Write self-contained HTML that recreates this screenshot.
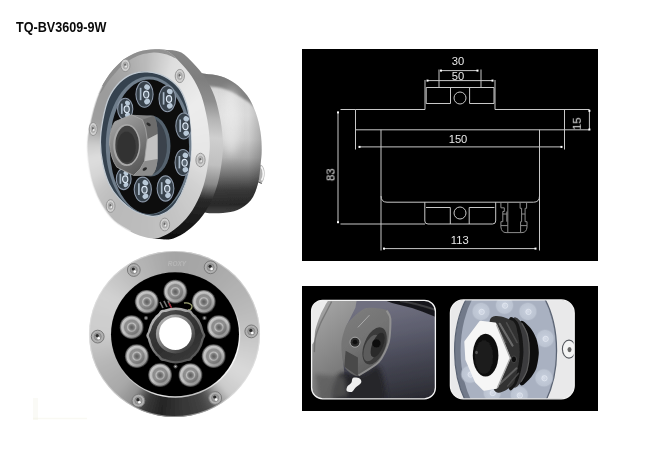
<!DOCTYPE html>
<html><head><meta charset="utf-8">
<style>
html,body{margin:0;padding:0;background:#fff;}
body{width:650px;height:455px;position:relative;overflow:hidden;font-family:"Liberation Sans",sans-serif;}
#title{position:absolute;left:15.9px;top:19px;font-size:14px;font-weight:bold;color:#0a0a0a;line-height:16px;white-space:nowrap;transform:scaleX(0.9);transform-origin:0 0;}
svg{position:absolute;left:0;top:0;}
</style></head><body>
<div id="title">TQ-BV3609-9W</div>
<svg id="main" width="650" height="455" viewBox="0 0 650 455">
<defs>
<filter id="b03" x="-5%" y="-5%" width="110%" height="110%"><feGaussianBlur stdDeviation="0.35"/></filter>
<filter id="b05" x="-5%" y="-5%" width="110%" height="110%"><feGaussianBlur stdDeviation="0.5"/></filter>
<filter id="b06" x="-5%" y="-5%" width="110%" height="110%"><feGaussianBlur stdDeviation="0.6"/></filter>
<filter id="b04" x="-5%" y="-5%" width="110%" height="110%"><feGaussianBlur stdDeviation="0.42"/></filter>
<filter id="b08" x="-5%" y="-5%" width="110%" height="110%"><feGaussianBlur stdDeviation="0.8"/></filter>
<filter id="b1" x="-5%" y="-5%" width="110%" height="110%"><feGaussianBlur stdDeviation="1"/></filter>
<filter id="b2" x="-10%" y="-10%" width="120%" height="120%"><feGaussianBlur stdDeviation="2"/></filter>
<filter id="b4" x="-20%" y="-20%" width="140%" height="140%"><feGaussianBlur stdDeviation="4"/></filter>

<clipPath id="tOuter"><path d="M87.0 142.0 C87.4 134.6 89.1 127.1 90.7 119.8 C92.3 112.5 94.2 104.8 96.8 98.0 C99.4 91.2 102.4 84.7 106.4 78.7 C110.4 72.7 115.8 66.2 121.0 61.8 C126.2 57.4 132.3 54.2 137.9 52.1 C143.5 50.0 149.8 49.3 154.8 49.2 C159.8 49.1 163.9 49.4 168.0 51.5 C172.1 53.6 175.6 57.7 179.5 61.8 C183.4 65.9 188.0 70.7 191.6 76.3 C195.2 81.9 198.7 88.3 201.3 95.6 C203.9 102.8 205.9 112.1 207.3 119.8 C208.7 127.5 209.4 135.8 209.7 141.5 C210.0 147.2 209.8 148.6 209.2 154.3 C208.6 160.1 207.5 169.2 206.0 176.0 C204.5 182.8 202.8 188.9 200.0 195.4 C197.2 201.9 193.4 209.2 189.2 214.8 C185.0 220.5 179.6 225.5 174.7 229.3 C169.8 233.1 164.5 236.1 160.0 237.5 C155.5 238.9 152.4 238.8 147.5 237.8 C142.6 236.8 136.2 234.5 130.6 231.7 C125.0 228.9 118.5 225.2 113.7 220.8 C108.9 216.4 105.0 210.8 101.6 205.0 C98.1 199.2 95.2 192.6 93.0 185.8 C90.8 179.0 89.3 171.3 88.3 164.0 C87.3 156.7 86.6 149.4 87.0 142.0Z"/></clipPath>
<clipPath id="tBody"><path d="M196.0 73.5 C198.5 70.8 200.8 73.3 204.9 73.8 C209.0 74.3 215.6 74.7 220.6 76.3 C225.6 77.9 230.7 80.3 235.1 83.5 C239.5 86.7 243.8 90.8 247.2 95.6 C250.6 100.4 253.5 106.5 255.7 112.5 C257.9 118.5 259.5 125.7 260.5 131.9 C261.5 138.2 261.7 144.5 261.7 150.0 C261.7 155.5 261.1 159.4 260.5 165.0 C259.9 170.6 259.6 177.5 258.0 183.4 C256.4 189.3 254.2 195.9 250.8 200.3 C247.4 204.7 242.1 207.9 237.5 210.0 C232.9 212.1 228.4 212.5 223.0 212.9 C217.6 213.3 210.5 213.7 205.0 212.4 C199.5 211.1 193.3 215.4 190.0 205.0 C186.7 194.6 185.0 169.2 185.0 150.0 C185.0 130.8 188.2 102.8 190.0 90.0 C191.8 77.2 193.5 76.2 196.0 73.5Z"/></clipPath>
<clipPath id="tInner"><path d="M100.4 142.3 C100.4 134.9 101.4 127.2 102.8 119.8 C104.2 112.4 106.0 104.2 108.8 98.0 C111.6 91.8 115.7 86.3 119.7 82.3 C123.7 78.3 128.4 75.5 133.0 73.8 C137.6 72.1 142.2 71.5 147.5 71.9 C152.8 72.3 159.2 73.6 164.5 76.3 C169.8 79.0 175.3 83.4 179.0 88.0 C182.7 92.6 184.7 98.5 186.5 104.0 C188.3 109.5 189.0 114.8 189.8 121.0 C190.6 127.2 191.0 135.1 191.1 141.5 C191.2 147.9 191.3 152.2 190.4 159.2 C189.5 166.2 188.0 176.1 185.6 183.4 C183.2 190.7 179.4 198.1 176.0 203.0 C172.6 207.9 169.0 210.8 165.0 213.0 C161.0 215.2 157.3 216.8 152.0 216.3 C146.7 215.8 138.6 213.1 133.0 210.0 C127.4 206.9 122.5 202.3 118.5 197.9 C114.5 193.5 111.4 189.1 108.8 183.4 C106.2 177.8 104.2 170.8 102.8 164.0 C101.4 157.2 100.4 149.7 100.4 142.3Z"/></clipPath>
<linearGradient id="tBodyG" gradientUnits="userSpaceOnUse" x1="0" y1="73" x2="0" y2="214">
<stop offset="0" stop-color="#9a9a9a"/><stop offset="0.05" stop-color="#b8b8b8"/><stop offset="0.1" stop-color="#d4d4d4"/><stop offset="0.17" stop-color="#dcdcdc"/><stop offset="0.3" stop-color="#e0e0e0"/><stop offset="0.47" stop-color="#d2d2d2"/><stop offset="0.6" stop-color="#b0b0b0"/><stop offset="0.72" stop-color="#747474"/><stop offset="0.83" stop-color="#3a3a3a"/><stop offset="0.93" stop-color="#282828"/><stop offset="1" stop-color="#444"/></linearGradient>
<linearGradient id="tBodyH" gradientUnits="userSpaceOnUse" x1="215" y1="0" x2="263" y2="0">
<stop offset="0" stop-color="#000" stop-opacity="0"/><stop offset="0.7" stop-color="#000" stop-opacity="0.03"/><stop offset="1" stop-color="#000" stop-opacity="0.22"/></linearGradient>
<linearGradient id="tRimG" gradientUnits="userSpaceOnUse" x1="0" y1="49" x2="0" y2="241">
<stop offset="0" stop-color="#868686"/><stop offset="0.15" stop-color="#7e7e7e"/><stop offset="0.27" stop-color="#8e8e8e"/><stop offset="0.36" stop-color="#b4b4b4"/><stop offset="0.46" stop-color="#cfcfcf"/><stop offset="0.6" stop-color="#c0c0c0"/><stop offset="0.7" stop-color="#8a8a8a"/><stop offset="0.78" stop-color="#2a2a2a"/><stop offset="1" stop-color="#0c0c0c"/></linearGradient>
<radialGradient id="tLed" cx="0.5" cy="0.5" r="0.5"><stop offset="0" stop-color="#dfe9f4"/><stop offset="0.22" stop-color="#8fa3b8"/><stop offset="0.4" stop-color="#55626f"/><stop offset="0.6" stop-color="#8ea2b6"/><stop offset="0.78" stop-color="#4a5560"/><stop offset="1" stop-color="#20252b"/></radialGradient>
<linearGradient id="tNutF" x1="0.2" y1="0" x2="0.7" y2="1"><stop offset="0" stop-color="#a4a4a4"/><stop offset="0.5" stop-color="#7e7e7e"/><stop offset="1" stop-color="#565656"/></linearGradient>
<linearGradient id="tNutS" gradientUnits="userSpaceOnUse" x1="0" y1="114" x2="0" y2="177"><stop offset="0" stop-color="#8a8a8a"/><stop offset="0.25" stop-color="#6c6c6c"/><stop offset="0.4" stop-color="#b8b8b8"/><stop offset="0.7" stop-color="#c4c4c4"/><stop offset="0.85" stop-color="#8a8a8a"/><stop offset="1" stop-color="#5a5a5a"/></linearGradient>
<clipPath id="bOuter"><ellipse cx="174.5" cy="334" rx="85.5" ry="83"/></clipPath>
<radialGradient id="ledg" cx="0.5" cy="0.5" r="0.5">
<stop offset="0" stop-color="#5e5e5e"/><stop offset="0.13" stop-color="#707070"/><stop offset="0.24" stop-color="#8a8a8a"/><stop offset="0.34" stop-color="#c2c2c2"/><stop offset="0.44" stop-color="#929292"/><stop offset="0.6" stop-color="#8c8c8c"/><stop offset="0.71" stop-color="#c0c0c0"/><stop offset="0.84" stop-color="#c8c8c8"/><stop offset="0.92" stop-color="#7a7a7a"/><stop offset="1" stop-color="#3a3a3a"/></radialGradient>
<linearGradient id="ledsh" x1="0.2" y1="0.1" x2="0.8" y2="0.9"><stop offset="0" stop-color="#fff" stop-opacity="0.12"/><stop offset="0.5" stop-color="#000" stop-opacity="0"/><stop offset="1" stop-color="#000" stop-opacity="0.3"/></linearGradient>
<linearGradient id="nutg" gradientUnits="userSpaceOnUse" x1="160" y1="306" x2="190" y2="365">
<stop offset="0" stop-color="#5a5a5a"/><stop offset="0.25" stop-color="#3c3c3c"/><stop offset="0.6" stop-color="#2e2e2e"/><stop offset="1" stop-color="#3c3c3c"/></linearGradient>
<linearGradient id="nutbev" gradientUnits="userSpaceOnUse" x1="158" y1="306" x2="196" y2="364"><stop offset="0" stop-color="#c4c4c4"/><stop offset="0.3" stop-color="#a0a0a0"/><stop offset="0.6" stop-color="#6a6a6a"/><stop offset="1" stop-color="#4c4c4c"/></linearGradient>
<linearGradient id="nutring" x1="0.15" y1="0.1" x2="0.85" y2="0.9">
<stop offset="0" stop-color="#b4b4b4"/><stop offset="0.45" stop-color="#7a7a7a"/><stop offset="1" stop-color="#3a3a3a"/></linearGradient>
<linearGradient id="bevel" x1="0.2" y1="0" x2="0.8" y2="1"><stop offset="0" stop-color="#fff" stop-opacity="0"/><stop offset="0.5" stop-color="#fff" stop-opacity="0"/><stop offset="0.8" stop-color="#fff" stop-opacity="0.9"/><stop offset="1" stop-color="#fff" stop-opacity="0.5"/></linearGradient>

<clipPath id="p1c"><rect x="311.6" y="300.3" width="123.8" height="98.5" rx="11" ry="11"/></clipPath>
<clipPath id="p2c"><rect x="450.4" y="299.9" width="123.8" height="98.9" rx="13" ry="13"/></clipPath>
<linearGradient id="p1bg" gradientUnits="userSpaceOnUse" x1="400" y1="303" x2="418" y2="399"><stop offset="0" stop-color="#707080"/><stop offset="0.3" stop-color="#5c5d6d"/><stop offset="0.6" stop-color="#454653"/><stop offset="0.85" stop-color="#35363f"/><stop offset="1" stop-color="#2a2a31"/></linearGradient>
<linearGradient id="p1left" gradientUnits="userSpaceOnUse" x1="312" y1="320" x2="360" y2="380"><stop offset="0" stop-color="#a0a0a0"/><stop offset="0.4" stop-color="#8c8c8c"/><stop offset="1" stop-color="#6c6c6c"/></linearGradient>
<linearGradient id="p1cl" gradientUnits="userSpaceOnUse" x1="345" y1="310" x2="385" y2="370"><stop offset="0" stop-color="#7e7e7e"/><stop offset="0.5" stop-color="#727272"/><stop offset="1" stop-color="#585858"/></linearGradient>
<radialGradient id="p2lens" cx="0.5" cy="0.5" r="0.5"><stop offset="0" stop-color="#d8deea"/><stop offset="0.35" stop-color="#c2cad8"/><stop offset="0.8" stop-color="#bcc4d2"/><stop offset="1" stop-color="#a8b0c0" stop-opacity="0"/></radialGradient>
<linearGradient id="p2thr" gradientUnits="userSpaceOnUse" x1="490" y1="320" x2="540" y2="390"><stop offset="0" stop-color="#3a3a3a"/><stop offset="0.3" stop-color="#1a1a1a"/><stop offset="0.6" stop-color="#2c2c2c"/><stop offset="1" stop-color="#101010"/></linearGradient>
</defs>
<rect x="302" y="49" width="296" height="212" fill="#000"/>
<rect x="302" y="286" width="296" height="125" fill="#000"/>
<path d="M35.5 398 V420" stroke="#f0f0e0" stroke-width="5" fill="none" opacity="0.3"/><path d="M33 418.5 H87" stroke="#f0f0e0" stroke-width="1.6" fill="none" opacity="0.4"/>
<g id="toplamp" filter="url(#b04)">
<path d="M256.5 166 L261 164.8 Q264.6 167 264.6 173 Q264.6 179.5 261.8 182.8 L256.5 180.5Z" fill="#b2b2b2"/>
<path d="M258 167 L258.5 180" stroke="#858585" stroke-width="1.6" fill="none"/>
<path d="M261 166.5 Q263.3 169 263.3 174 Q263.3 178 261.5 180.5" stroke="#f6f6f6" stroke-width="1.6" fill="none"/>
<path d="M257 181.3 L261.8 183.6" stroke="#555" stroke-width="1.1" fill="none"/>
<path d="M196.0 73.5 C198.5 70.8 200.8 73.3 204.9 73.8 C209.0 74.3 215.6 74.7 220.6 76.3 C225.6 77.9 230.7 80.3 235.1 83.5 C239.5 86.7 243.8 90.8 247.2 95.6 C250.6 100.4 253.5 106.5 255.7 112.5 C257.9 118.5 259.5 125.7 260.5 131.9 C261.5 138.2 261.7 144.5 261.7 150.0 C261.7 155.5 261.1 159.4 260.5 165.0 C259.9 170.6 259.6 177.5 258.0 183.4 C256.4 189.3 254.2 195.9 250.8 200.3 C247.4 204.7 242.1 207.9 237.5 210.0 C232.9 212.1 228.4 212.5 223.0 212.9 C217.6 213.3 210.5 213.7 205.0 212.4 C199.5 211.1 193.3 215.4 190.0 205.0 C186.7 194.6 185.0 169.2 185.0 150.0 C185.0 130.8 188.2 102.8 190.0 90.0 C191.8 77.2 193.5 76.2 196.0 73.5Z" fill="url(#tBodyG)"/>
<path d="M196.0 73.5 C198.5 70.8 200.8 73.3 204.9 73.8 C209.0 74.3 215.6 74.7 220.6 76.3 C225.6 77.9 230.7 80.3 235.1 83.5 C239.5 86.7 243.8 90.8 247.2 95.6 C250.6 100.4 253.5 106.5 255.7 112.5 C257.9 118.5 259.5 125.7 260.5 131.9 C261.5 138.2 261.7 144.5 261.7 150.0 C261.7 155.5 261.1 159.4 260.5 165.0 C259.9 170.6 259.6 177.5 258.0 183.4 C256.4 189.3 254.2 195.9 250.8 200.3 C247.4 204.7 242.1 207.9 237.5 210.0 C232.9 212.1 228.4 212.5 223.0 212.9 C217.6 213.3 210.5 213.7 205.0 212.4 C199.5 211.1 193.3 215.4 190.0 205.0 C186.7 194.6 185.0 169.2 185.0 150.0 C185.0 130.8 188.2 102.8 190.0 90.0 C191.8 77.2 193.5 76.2 196.0 73.5Z" fill="url(#tBodyH)"/>
<g clip-path="url(#tBody)">
<path d="M190.0 70.0 C192.0 68.1 200.9 71.0 205.0 71.5 C209.1 72.0 216.9 72.7 221.0 74.0 C225.1 75.3 232.3 78.8 236.0 81.5 C239.7 84.2 245.8 90.3 248.5 94.0 C251.2 97.7 256.3 107.8 256.5 109.0 C256.7 110.2 251.8 104.4 250.0 103.0 C248.2 101.6 245.4 100.0 243.0 98.5 C240.6 97.0 235.2 93.5 232.0 92.0 C228.8 90.5 222.9 88.3 219.0 87.5 C215.1 86.7 206.9 86.2 203.0 86.0 C199.1 85.8 191.7 88.1 190.0 86.0 C188.3 83.9 188.0 71.9 190.0 70.0Z" fill="#6c6c6c" opacity="0.78" filter="url(#b08)"/>
<ellipse cx="231" cy="122" rx="9" ry="34" fill="#f2f2f2" opacity="0.5" filter="url(#b4)"/>
</g>
<g transform="translate(13.3 1)"><path d="M87.0 142.0 C87.4 134.6 89.1 127.1 90.7 119.8 C92.3 112.5 94.2 104.8 96.8 98.0 C99.4 91.2 102.4 84.7 106.4 78.7 C110.4 72.7 115.8 66.2 121.0 61.8 C126.2 57.4 132.3 54.2 137.9 52.1 C143.5 50.0 149.8 49.3 154.8 49.2 C159.8 49.1 163.9 49.4 168.0 51.5 C172.1 53.6 175.6 57.7 179.5 61.8 C183.4 65.9 188.0 70.7 191.6 76.3 C195.2 81.9 198.7 88.3 201.3 95.6 C203.9 102.8 205.9 112.1 207.3 119.8 C208.7 127.5 209.4 135.8 209.7 141.5 C210.0 147.2 209.8 148.6 209.2 154.3 C208.6 160.1 207.5 169.2 206.0 176.0 C204.5 182.8 202.8 188.9 200.0 195.4 C197.2 201.9 193.4 209.2 189.2 214.8 C185.0 220.5 179.6 225.5 174.7 229.3 C169.8 233.1 164.5 236.1 160.0 237.5 C155.5 238.9 152.4 238.8 147.5 237.8 C142.6 236.8 136.2 234.5 130.6 231.7 C125.0 228.9 118.5 225.2 113.7 220.8 C108.9 216.4 105.0 210.8 101.6 205.0 C98.1 199.2 95.2 192.6 93.0 185.8 C90.8 179.0 89.3 171.3 88.3 164.0 C87.3 156.7 86.6 149.4 87.0 142.0Z" fill="url(#tRimG)"/></g>
<g transform="translate(9 0.7)"><path d="M87.0 142.0 C87.4 134.6 89.1 127.1 90.7 119.8 C92.3 112.5 94.2 104.8 96.8 98.0 C99.4 91.2 102.4 84.7 106.4 78.7 C110.4 72.7 115.8 66.2 121.0 61.8 C126.2 57.4 132.3 54.2 137.9 52.1 C143.5 50.0 149.8 49.3 154.8 49.2 C159.8 49.1 163.9 49.4 168.0 51.5 C172.1 53.6 175.6 57.7 179.5 61.8 C183.4 65.9 188.0 70.7 191.6 76.3 C195.2 81.9 198.7 88.3 201.3 95.6 C203.9 102.8 205.9 112.1 207.3 119.8 C208.7 127.5 209.4 135.8 209.7 141.5 C210.0 147.2 209.8 148.6 209.2 154.3 C208.6 160.1 207.5 169.2 206.0 176.0 C204.5 182.8 202.8 188.9 200.0 195.4 C197.2 201.9 193.4 209.2 189.2 214.8 C185.0 220.5 179.6 225.5 174.7 229.3 C169.8 233.1 164.5 236.1 160.0 237.5 C155.5 238.9 152.4 238.8 147.5 237.8 C142.6 236.8 136.2 234.5 130.6 231.7 C125.0 228.9 118.5 225.2 113.7 220.8 C108.9 216.4 105.0 210.8 101.6 205.0 C98.1 199.2 95.2 192.6 93.0 185.8 C90.8 179.0 89.3 171.3 88.3 164.0 C87.3 156.7 86.6 149.4 87.0 142.0Z" fill="url(#tRimG)"/></g>
<g transform="translate(4.5 0.3)"><path d="M87.0 142.0 C87.4 134.6 89.1 127.1 90.7 119.8 C92.3 112.5 94.2 104.8 96.8 98.0 C99.4 91.2 102.4 84.7 106.4 78.7 C110.4 72.7 115.8 66.2 121.0 61.8 C126.2 57.4 132.3 54.2 137.9 52.1 C143.5 50.0 149.8 49.3 154.8 49.2 C159.8 49.1 163.9 49.4 168.0 51.5 C172.1 53.6 175.6 57.7 179.5 61.8 C183.4 65.9 188.0 70.7 191.6 76.3 C195.2 81.9 198.7 88.3 201.3 95.6 C203.9 102.8 205.9 112.1 207.3 119.8 C208.7 127.5 209.4 135.8 209.7 141.5 C210.0 147.2 209.8 148.6 209.2 154.3 C208.6 160.1 207.5 169.2 206.0 176.0 C204.5 182.8 202.8 188.9 200.0 195.4 C197.2 201.9 193.4 209.2 189.2 214.8 C185.0 220.5 179.6 225.5 174.7 229.3 C169.8 233.1 164.5 236.1 160.0 237.5 C155.5 238.9 152.4 238.8 147.5 237.8 C142.6 236.8 136.2 234.5 130.6 231.7 C125.0 228.9 118.5 225.2 113.7 220.8 C108.9 216.4 105.0 210.8 101.6 205.0 C98.1 199.2 95.2 192.6 93.0 185.8 C90.8 179.0 89.3 171.3 88.3 164.0 C87.3 156.7 86.6 149.4 87.0 142.0Z" fill="url(#tRimG)"/></g>
<g clip-path="url(#tOuter)"><g filter="url(#b2)"><path d="M147 144L145.6 14.0L157.4 14.4Z" fill="rgb(192,192,192)"/>
<path d="M147 144L154.7 14.2L166.4 15.5Z" fill="rgb(199,199,199)"/>
<path d="M147 144L163.7 15.1L175.4 17.1Z" fill="rgb(207,207,207)"/>
<path d="M147 144L172.7 16.6L184.1 19.4Z" fill="rgb(214,214,214)"/>
<path d="M147 144L181.5 18.7L192.7 22.3Z" fill="rgb(222,222,222)"/>
<path d="M147 144L190.2 21.4L201.1 25.8Z" fill="rgb(224,224,224)"/>
<path d="M147 144L198.6 24.7L209.2 29.9Z" fill="rgb(226,226,226)"/>
<path d="M147 144L206.8 28.6L217.0 34.5Z" fill="rgb(227,227,227)"/>
<path d="M147 144L214.7 33.0L224.5 39.6Z" fill="rgb(229,229,229)"/>
<path d="M147 144L222.3 38.0L231.6 45.3Z" fill="rgb(231,231,231)"/>
<path d="M147 144L229.5 43.5L238.3 51.4Z" fill="rgb(232,232,232)"/>
<path d="M147 144L236.3 49.5L244.5 58.0Z" fill="rgb(234,234,234)"/>
<path d="M147 144L242.7 56.0L250.3 65.0Z" fill="rgb(236,236,236)"/>
<path d="M147 144L248.6 62.9L255.5 72.4Z" fill="rgb(236,236,236)"/>
<path d="M147 144L254.0 70.2L260.3 80.2Z" fill="rgb(235,235,235)"/>
<path d="M147 144L258.9 77.8L264.4 88.2Z" fill="rgb(235,235,235)"/>
<path d="M147 144L263.2 85.8L268.0 96.6Z" fill="rgb(234,234,234)"/>
<path d="M147 144L267.0 94.0L271.1 105.1Z" fill="rgb(234,234,234)"/>
<path d="M147 144L270.2 102.5L273.5 113.9Z" fill="rgb(233,233,233)"/>
<path d="M147 144L272.8 111.2L275.3 122.8Z" fill="rgb(233,233,233)"/>
<path d="M147 144L274.8 120.1L276.4 131.8Z" fill="rgb(232,232,232)"/>
<path d="M147 144L276.1 129.1L277.0 140.8Z" fill="rgb(232,232,232)"/>
<path d="M147 144L276.9 138.1L276.9 149.9Z" fill="rgb(231,231,231)"/>
<path d="M147 144L277.0 147.2L276.1 158.9Z" fill="rgb(231,231,231)"/>
<path d="M147 144L276.4 156.2L274.8 167.9Z" fill="rgb(230,230,230)"/>
<path d="M147 144L275.3 165.2L272.8 176.8Z" fill="rgb(229,229,229)"/>
<path d="M147 144L273.5 174.1L270.2 185.5Z" fill="rgb(226,226,226)"/>
<path d="M147 144L271.1 182.9L267.0 194.0Z" fill="rgb(223,223,223)"/>
<path d="M147 144L268.0 191.4L263.2 202.2Z" fill="rgb(221,221,221)"/>
<path d="M147 144L264.4 199.8L258.9 210.2Z" fill="rgb(218,218,218)"/>
<path d="M147 144L260.3 207.8L254.0 217.8Z" fill="rgb(215,215,215)"/>
<path d="M147 144L255.5 215.6L248.6 225.1Z" fill="rgb(213,213,213)"/>
<path d="M147 144L250.3 223.0L242.7 232.0Z" fill="rgb(210,210,210)"/>
<path d="M147 144L244.5 230.0L236.3 238.5Z" fill="rgb(208,208,208)"/>
<path d="M147 144L238.3 236.6L229.5 244.5Z" fill="rgb(206,206,206)"/>
<path d="M147 144L231.6 242.7L222.3 250.0Z" fill="rgb(204,204,204)"/>
<path d="M147 144L224.5 248.4L214.7 255.0Z" fill="rgb(203,203,203)"/>
<path d="M147 144L217.0 253.5L206.8 259.4Z" fill="rgb(201,201,201)"/>
<path d="M147 144L209.2 258.1L198.6 263.3Z" fill="rgb(199,199,199)"/>
<path d="M147 144L201.1 262.2L190.2 266.6Z" fill="rgb(197,197,197)"/>
<path d="M147 144L192.7 265.7L181.5 269.3Z" fill="rgb(195,195,195)"/>
<path d="M147 144L184.1 268.6L172.7 271.4Z" fill="rgb(194,194,194)"/>
<path d="M147 144L175.4 270.9L163.7 272.9Z" fill="rgb(193,193,193)"/>
<path d="M147 144L166.4 272.5L154.7 273.8Z" fill="rgb(192,192,192)"/>
<path d="M147 144L157.4 273.6L145.6 274.0Z" fill="rgb(190,190,190)"/>
<path d="M147 144L148.4 274.0L136.6 273.6Z" fill="rgb(189,189,189)"/>
<path d="M147 144L139.3 273.8L127.6 272.5Z" fill="rgb(188,188,188)"/>
<path d="M147 144L130.3 272.9L118.6 270.9Z" fill="rgb(188,188,188)"/>
<path d="M147 144L121.3 271.4L109.9 268.6Z" fill="rgb(187,187,187)"/>
<path d="M147 144L112.5 269.3L101.3 265.7Z" fill="rgb(187,187,187)"/>
<path d="M147 144L103.8 266.6L92.9 262.2Z" fill="rgb(186,186,186)"/>
<path d="M147 144L95.4 263.3L84.8 258.1Z" fill="rgb(186,186,186)"/>
<path d="M147 144L87.2 259.4L77.0 253.5Z" fill="rgb(188,188,188)"/>
<path d="M147 144L79.3 255.0L69.5 248.4Z" fill="rgb(190,190,190)"/>
<path d="M147 144L71.7 250.0L62.4 242.7Z" fill="rgb(192,192,192)"/>
<path d="M147 144L64.5 244.5L55.7 236.6Z" fill="rgb(194,194,194)"/>
<path d="M147 144L57.7 238.5L49.5 230.0Z" fill="rgb(197,197,197)"/>
<path d="M147 144L51.3 232.0L43.7 223.0Z" fill="rgb(202,202,202)"/>
<path d="M147 144L45.4 225.1L38.5 215.6Z" fill="rgb(207,207,207)"/>
<path d="M147 144L40.0 217.8L33.7 207.8Z" fill="rgb(212,212,212)"/>
<path d="M147 144L35.1 210.2L29.6 199.8Z" fill="rgb(215,215,215)"/>
<path d="M147 144L30.8 202.2L26.0 191.4Z" fill="rgb(217,217,217)"/>
<path d="M147 144L27.0 194.0L22.9 182.9Z" fill="rgb(219,219,219)"/>
<path d="M147 144L23.8 185.5L20.5 174.1Z" fill="rgb(221,221,221)"/>
<path d="M147 144L21.2 176.8L18.7 165.2Z" fill="rgb(219,219,219)"/>
<path d="M147 144L19.2 167.9L17.6 156.2Z" fill="rgb(214,214,214)"/>
<path d="M147 144L17.9 158.9L17.0 147.2Z" fill="rgb(209,209,209)"/>
<path d="M147 144L17.1 149.9L17.1 138.1Z" fill="rgb(204,204,204)"/>
<path d="M147 144L17.0 140.8L17.9 129.1Z" fill="rgb(194,194,194)"/>
<path d="M147 144L17.6 131.8L19.2 120.1Z" fill="rgb(185,185,185)"/>
<path d="M147 144L18.7 122.8L21.2 111.2Z" fill="rgb(175,175,175)"/>
<path d="M147 144L20.5 113.9L23.8 102.5Z" fill="rgb(168,168,168)"/>
<path d="M147 144L22.9 105.1L27.0 94.0Z" fill="rgb(164,164,164)"/>
<path d="M147 144L26.0 96.6L30.8 85.8Z" fill="rgb(160,160,160)"/>
<path d="M147 144L29.6 88.2L35.1 77.8Z" fill="rgb(158,158,158)"/>
<path d="M147 144L33.7 80.2L40.0 70.2Z" fill="rgb(158,158,158)"/>
<path d="M147 144L38.5 72.4L45.4 62.9Z" fill="rgb(157,157,157)"/>
<path d="M147 144L43.7 65.0L51.3 56.0Z" fill="rgb(157,157,157)"/>
<path d="M147 144L49.5 58.0L57.7 49.5Z" fill="rgb(157,157,157)"/>
<path d="M147 144L55.7 51.4L64.5 43.5Z" fill="rgb(156,156,156)"/>
<path d="M147 144L62.4 45.3L71.7 38.0Z" fill="rgb(156,156,156)"/>
<path d="M147 144L69.5 39.6L79.3 33.0Z" fill="rgb(157,157,157)"/>
<path d="M147 144L77.0 34.5L87.2 28.6Z" fill="rgb(159,159,159)"/>
<path d="M147 144L84.8 29.9L95.4 24.7Z" fill="rgb(161,161,161)"/>
<path d="M147 144L92.9 25.8L103.8 21.4Z" fill="rgb(164,164,164)"/>
<path d="M147 144L101.3 22.3L112.5 18.7Z" fill="rgb(166,166,166)"/>
<path d="M147 144L109.9 19.4L121.3 16.6Z" fill="rgb(169,169,169)"/>
<path d="M147 144L118.6 17.1L130.3 15.1Z" fill="rgb(175,175,175)"/>
<path d="M147 144L127.6 15.5L139.3 14.2Z" fill="rgb(180,180,180)"/>
<path d="M147 144L136.6 14.4L148.4 14.0Z" fill="rgb(185,185,185)"/></g></g>
<g clip-path="url(#tOuter)">
<path d="M96.0 92.0 C96.3 89.7 99.9 80.5 103.0 76.0 C106.1 71.5 114.5 61.7 119.0 58.0 C123.5 54.3 132.2 49.7 137.0 48.0 C141.8 46.3 150.6 45.1 155.0 45.0 C159.4 44.9 166.7 45.3 170.0 47.0 C173.3 48.7 179.2 56.5 180.0 58.0 C180.8 59.5 177.7 59.0 176.0 58.5 C174.3 58.0 169.8 55.4 167.0 54.6 C164.2 53.8 158.6 52.3 154.8 52.4 C151.0 52.5 142.7 53.7 138.5 55.4 C134.3 57.1 126.9 61.5 123.0 64.8 C119.1 68.1 112.0 76.7 109.0 80.5 C106.0 84.3 102.2 91.5 100.5 93.0 C98.8 94.5 95.7 94.3 96.0 92.0Z" fill="#8b8b8b" opacity="0.9" filter="url(#b05)"/>
</g>
<path d="M130.6 231.7 C127.8 229.9 118.5 225.2 113.7 220.8 C108.9 216.4 105.0 210.8 101.6 205.0 C98.1 199.2 95.2 192.6 93.0 185.8 C90.8 179.0 89.3 171.3 88.3 164.0 C87.3 156.7 86.6 149.4 87.0 142.0 C87.4 134.6 89.1 127.1 90.7 119.8 C92.3 112.5 94.9 103.6 96.8 98.0 C98.7 92.4 101.1 88.0 102.0 86.0" fill="none" stroke="#f6f6f6" stroke-width="1.6" opacity="0.6"/>
<path d="M100.4 142.3 C100.4 134.9 101.4 127.2 102.8 119.8 C104.2 112.4 106.0 104.2 108.8 98.0 C111.6 91.8 115.7 86.3 119.7 82.3 C123.7 78.3 128.4 75.5 133.0 73.8 C137.6 72.1 142.2 71.5 147.5 71.9 C152.8 72.3 159.2 73.6 164.5 76.3 C169.8 79.0 175.3 83.4 179.0 88.0 C182.7 92.6 184.7 98.5 186.5 104.0 C188.3 109.5 189.0 114.8 189.8 121.0 C190.6 127.2 191.0 135.1 191.1 141.5 C191.2 147.9 191.3 152.2 190.4 159.2 C189.5 166.2 188.0 176.1 185.6 183.4 C183.2 190.7 179.4 198.1 176.0 203.0 C172.6 207.9 169.0 210.8 165.0 213.0 C161.0 215.2 157.3 216.8 152.0 216.3 C146.7 215.8 138.6 213.1 133.0 210.0 C127.4 206.9 122.5 202.3 118.5 197.9 C114.5 193.5 111.4 189.1 108.8 183.4 C106.2 177.8 104.2 170.8 102.8 164.0 C101.4 157.2 100.4 149.7 100.4 142.3Z" fill="#35434f" stroke="#c2cad2" stroke-width="1.3"/>
<g clip-path="url(#tInner)">
<ellipse cx="149" cy="145.5" rx="43.2" ry="69" fill="#6f7e8c"/>
<ellipse cx="149.4" cy="146.8" rx="39.7" ry="67.3" fill="#0a0b0d"/>
<g transform="translate(144.5 94.3)"><ellipse rx="8.6" ry="13" fill="#39424c" stroke="#8d99a9" stroke-width="1.1"/><path d="M-3.9 -6.5 V5.9" stroke="#b8c8d8" stroke-width="1.7" opacity="0.9"/><ellipse cx="2.6" cy="-7.2" rx="3.0" ry="2.6" fill="#c8d8e8" opacity="0.9" transform="rotate(35 2.6 -7.2)"/><ellipse cx="2.6" cy="7.2" rx="3.0" ry="2.6" fill="#c8d8e8" opacity="0.9" transform="rotate(-35 2.6 7.2)"/><ellipse cx="1.7" cy="0.3" rx="2.6" ry="3.4" fill="#5c6873" stroke="#dce8f4" stroke-width="1.2"/></g>
<g transform="translate(167.3 98.7)"><ellipse rx="8.3" ry="13" fill="#39424c" stroke="#8d99a9" stroke-width="1.1"/><path d="M-3.7 -6.5 V5.9" stroke="#b8c8d8" stroke-width="1.7" opacity="0.9"/><ellipse cx="2.5" cy="-7.2" rx="2.9" ry="2.6" fill="#c8d8e8" opacity="0.9" transform="rotate(35 2.5 -7.2)"/><ellipse cx="2.5" cy="7.2" rx="2.9" ry="2.6" fill="#c8d8e8" opacity="0.9" transform="rotate(-35 2.5 7.2)"/><ellipse cx="1.7" cy="0.3" rx="2.6" ry="3.4" fill="#5c6873" stroke="#dce8f4" stroke-width="1.2"/></g>
<g transform="translate(183.8 126)"><ellipse rx="8" ry="13" fill="#39424c" stroke="#8d99a9" stroke-width="1.1"/><path d="M-3.6 -6.5 V5.9" stroke="#b8c8d8" stroke-width="1.7" opacity="0.9"/><ellipse cx="2.4" cy="-7.2" rx="2.8" ry="2.6" fill="#c8d8e8" opacity="0.9" transform="rotate(35 2.4 -7.2)"/><ellipse cx="2.4" cy="7.2" rx="2.8" ry="2.6" fill="#c8d8e8" opacity="0.9" transform="rotate(-35 2.4 7.2)"/><ellipse cx="1.6" cy="0.3" rx="2.6" ry="3.4" fill="#5c6873" stroke="#dce8f4" stroke-width="1.2"/></g>
<g transform="translate(183 162.5)"><ellipse rx="8" ry="13" fill="#39424c" stroke="#8d99a9" stroke-width="1.1"/><path d="M-3.6 -6.5 V5.9" stroke="#b8c8d8" stroke-width="1.7" opacity="0.9"/><ellipse cx="2.4" cy="-7.2" rx="2.8" ry="2.6" fill="#c8d8e8" opacity="0.9" transform="rotate(35 2.4 -7.2)"/><ellipse cx="2.4" cy="7.2" rx="2.8" ry="2.6" fill="#c8d8e8" opacity="0.9" transform="rotate(-35 2.4 7.2)"/><ellipse cx="1.6" cy="0.3" rx="2.6" ry="3.4" fill="#5c6873" stroke="#dce8f4" stroke-width="1.2"/></g>
<g transform="translate(165.5 188.5)"><ellipse rx="8.4" ry="12.6" fill="#39424c" stroke="#8d99a9" stroke-width="1.1"/><path d="M-3.8 -6.3 V5.7" stroke="#b8c8d8" stroke-width="1.7" opacity="0.9"/><ellipse cx="2.5" cy="-6.9" rx="2.9" ry="2.5" fill="#c8d8e8" opacity="0.9" transform="rotate(35 2.5 -6.9)"/><ellipse cx="2.5" cy="6.9" rx="2.9" ry="2.5" fill="#c8d8e8" opacity="0.9" transform="rotate(-35 2.5 6.9)"/><ellipse cx="1.7" cy="0.3" rx="2.6" ry="3.4" fill="#5c6873" stroke="#dce8f4" stroke-width="1.2"/></g>
<g transform="translate(142.8 189.5)"><ellipse rx="8.6" ry="12.4" fill="#39424c" stroke="#8d99a9" stroke-width="1.1"/><path d="M-3.9 -6.2 V5.6" stroke="#b8c8d8" stroke-width="1.7" opacity="0.9"/><ellipse cx="2.6" cy="-6.8" rx="3.0" ry="2.5" fill="#c8d8e8" opacity="0.9" transform="rotate(35 2.6 -6.8)"/><ellipse cx="2.6" cy="6.8" rx="3.0" ry="2.5" fill="#c8d8e8" opacity="0.9" transform="rotate(-35 2.6 6.8)"/><ellipse cx="1.7" cy="0.3" rx="2.6" ry="3.4" fill="#5c6873" stroke="#dce8f4" stroke-width="1.2"/></g>
<g transform="translate(125.2 109)"><ellipse rx="7.6" ry="10.8" fill="#39424c" stroke="#8d99a9" stroke-width="1.1"/><path d="M-3.4 -5.4 V4.9" stroke="#b8c8d8" stroke-width="1.7" opacity="0.9"/><ellipse cx="2.3" cy="-5.9" rx="2.7" ry="2.2" fill="#c8d8e8" opacity="0.9" transform="rotate(35 2.3 -5.9)"/><ellipse cx="2.3" cy="5.9" rx="2.7" ry="2.2" fill="#c8d8e8" opacity="0.9" transform="rotate(-35 2.3 5.9)"/><ellipse cx="1.5" cy="0.3" rx="2.6" ry="3.4" fill="#5c6873" stroke="#dce8f4" stroke-width="1.2"/></g>
<g transform="translate(123.7 179)"><ellipse rx="7.4" ry="10.6" fill="#39424c" stroke="#8d99a9" stroke-width="1.1"/><path d="M-3.3 -5.3 V4.8" stroke="#b8c8d8" stroke-width="1.7" opacity="0.9"/><ellipse cx="2.2" cy="-5.8" rx="2.6" ry="2.1" fill="#c8d8e8" opacity="0.9" transform="rotate(35 2.2 -5.8)"/><ellipse cx="2.2" cy="5.8" rx="2.6" ry="2.1" fill="#c8d8e8" opacity="0.9" transform="rotate(-35 2.2 5.8)"/><ellipse cx="1.5" cy="0.3" rx="2.6" ry="3.4" fill="#5c6873" stroke="#dce8f4" stroke-width="1.2"/></g>
<ellipse cx="150.5" cy="146" rx="20" ry="30.5" fill="#55626e"/>
<ellipse cx="148.5" cy="146" rx="18.5" ry="29" fill="#3a434c"/>
</g>
<path d="M131.6 114.8 L153.5 115.8 Q157.5 120 157.5 134 L157.5 159 Q157 170 152 175.5 L133.6 176 Z" fill="url(#tNutS)"/>
<path d="M142.5 119.8 L153.5 115.8 Q157.5 120 157.5 134 L147.2 139.5Z" fill="#6c6c6c"/>
<path d="M147.2 139.5 L157.5 134 L157.5 159 L144.5 161.3Z" fill="#c2c2c2"/>
<path d="M144.5 161.3 L157.5 159 Q157 170 152 175.5 L133.6 176Z" fill="#8c8c8c"/>
<ellipse cx="148.6" cy="124.3" rx="2.4" ry="1.4" fill="#2a2a2a" transform="rotate(35 148.6 124.3)"/><ellipse cx="144.8" cy="169" rx="2.4" ry="1.4" fill="#2a2a2a" transform="rotate(-30 144.8 169)"/>
<path d="M109.5 143.5 Q110 128 114.8 121.7 L131.6 114.8 L142.5 119.8 Q146.5 128 147.2 139.5 L144.5 161.3 Q141 170 133.6 175.4 L116.8 167.2 Q110.5 158 109.5 143.5Z" fill="url(#tNutF)" stroke="#a8a8a8" stroke-width="0.8"/>
<ellipse cx="126.8" cy="145" rx="13.6" ry="21" fill="#a8a8a8"/>
<ellipse cx="127.1" cy="145" rx="11.8" ry="19.2" fill="#404040"/>
<ellipse cx="126.5" cy="147" rx="9.5" ry="15.5" fill="#333"/>
<g transform="translate(125.4 65.4)"><ellipse rx="4.6" ry="6.2" fill="#cfcfcf" stroke="#909090" stroke-width="0.9"/><ellipse rx="2.5" ry="3.4" fill="#b4b4b4" stroke="#9a9a9a" stroke-width="0.6"/><ellipse cx="-0.3" cy="-0.6" rx="0.9" ry="1.3" fill="#666"/><ellipse cx="0.6" cy="1" rx="0.8" ry="1" fill="#f4f4f4"/></g>
<g transform="translate(179.8 76)"><ellipse rx="4.6" ry="6.6" fill="#cfcfcf" stroke="#909090" stroke-width="0.9"/><ellipse rx="2.5" ry="3.6" fill="#b4b4b4" stroke="#9a9a9a" stroke-width="0.6"/><ellipse cx="-0.3" cy="-0.6" rx="0.9" ry="1.3" fill="#666"/><ellipse cx="0.6" cy="1" rx="0.8" ry="1" fill="#f4f4f4"/></g>
<g transform="translate(200.5 160)"><ellipse rx="4.6" ry="6.8" fill="#cfcfcf" stroke="#909090" stroke-width="0.9"/><ellipse rx="2.5" ry="3.7" fill="#b4b4b4" stroke="#9a9a9a" stroke-width="0.6"/><ellipse cx="-0.3" cy="-0.6" rx="0.9" ry="1.3" fill="#666"/><ellipse cx="0.6" cy="1" rx="0.8" ry="1" fill="#f4f4f4"/></g>
<g transform="translate(164.8 224.5)"><ellipse rx="4.8" ry="6.4" fill="#cfcfcf" stroke="#909090" stroke-width="0.9"/><ellipse rx="2.6" ry="3.5" fill="#b4b4b4" stroke="#9a9a9a" stroke-width="0.6"/><ellipse cx="-0.3" cy="-0.6" rx="0.9" ry="1.3" fill="#666"/><ellipse cx="0.6" cy="1" rx="0.8" ry="1" fill="#f4f4f4"/></g>
<g transform="translate(110.6 206)"><ellipse rx="4.4" ry="6.4" fill="#cfcfcf" stroke="#909090" stroke-width="0.9"/><ellipse rx="2.4" ry="3.5" fill="#b4b4b4" stroke="#9a9a9a" stroke-width="0.6"/><ellipse cx="-0.3" cy="-0.6" rx="0.9" ry="1.3" fill="#666"/><ellipse cx="0.6" cy="1" rx="0.8" ry="1" fill="#f4f4f4"/></g>
<g transform="translate(93.2 129)"><ellipse rx="4" ry="6.6" fill="#cfcfcf" stroke="#909090" stroke-width="0.9"/><ellipse rx="2.2" ry="3.6" fill="#b4b4b4" stroke="#9a9a9a" stroke-width="0.6"/><ellipse cx="-0.3" cy="-0.6" rx="0.9" ry="1.3" fill="#666"/><ellipse cx="0.6" cy="1" rx="0.8" ry="1" fill="#f4f4f4"/></g>
</g>
<g id="bottomlamp" filter="url(#b04)">
<g clip-path="url(#bOuter)"><g filter="url(#b2)"><path d="M174.5 334L173.2 209.0L184.5 209.4Z" fill="rgb(164,164,164)"/>
<path d="M174.5 334L181.9 209.2L193.2 210.4Z" fill="rgb(165,165,165)"/>
<path d="M174.5 334L190.6 210.0L201.8 212.0Z" fill="rgb(165,165,165)"/>
<path d="M174.5 334L199.2 211.5L210.2 214.2Z" fill="rgb(166,166,166)"/>
<path d="M174.5 334L207.7 213.5L218.5 217.0Z" fill="rgb(166,166,166)"/>
<path d="M174.5 334L216.0 216.1L226.5 220.3Z" fill="rgb(167,167,167)"/>
<path d="M174.5 334L224.1 219.3L234.3 224.3Z" fill="rgb(167,167,167)"/>
<path d="M174.5 334L232.0 223.0L241.8 228.7Z" fill="rgb(168,168,168)"/>
<path d="M174.5 334L239.6 227.3L249.0 233.6Z" fill="rgb(170,170,170)"/>
<path d="M174.5 334L246.9 232.1L255.8 239.1Z" fill="rgb(171,171,171)"/>
<path d="M174.5 334L253.8 237.4L262.3 245.0Z" fill="rgb(173,173,173)"/>
<path d="M174.5 334L260.4 243.2L268.3 251.3Z" fill="rgb(174,174,174)"/>
<path d="M174.5 334L266.5 249.4L273.8 258.1Z" fill="rgb(176,176,176)"/>
<path d="M174.5 334L272.2 256.0L278.9 265.2Z" fill="rgb(178,178,178)"/>
<path d="M174.5 334L277.4 263.0L283.4 272.6Z" fill="rgb(179,179,179)"/>
<path d="M174.5 334L282.1 270.4L287.4 280.4Z" fill="rgb(181,181,181)"/>
<path d="M174.5 334L286.3 278.0L290.9 288.4Z" fill="rgb(183,183,183)"/>
<path d="M174.5 334L289.9 286.0L293.8 296.6Z" fill="rgb(185,185,185)"/>
<path d="M174.5 334L293.0 294.1L296.1 305.0Z" fill="rgb(187,187,187)"/>
<path d="M174.5 334L295.5 302.5L297.8 313.6Z" fill="rgb(190,190,190)"/>
<path d="M174.5 334L297.4 311.0L298.9 322.2Z" fill="rgb(192,192,192)"/>
<path d="M174.5 334L298.7 319.6L299.5 330.9Z" fill="rgb(194,194,194)"/>
<path d="M174.5 334L299.4 328.3L299.4 339.7Z" fill="rgb(196,196,196)"/>
<path d="M174.5 334L299.5 337.1L298.7 348.4Z" fill="rgb(199,199,199)"/>
<path d="M174.5 334L298.9 345.8L297.4 357.0Z" fill="rgb(202,202,202)"/>
<path d="M174.5 334L297.8 354.4L295.5 365.5Z" fill="rgb(205,205,205)"/>
<path d="M174.5 334L296.1 363.0L293.0 373.9Z" fill="rgb(208,208,208)"/>
<path d="M174.5 334L293.8 371.4L289.9 382.0Z" fill="rgb(211,211,211)"/>
<path d="M174.5 334L290.9 379.6L286.3 390.0Z" fill="rgb(214,214,214)"/>
<path d="M174.5 334L287.4 387.6L282.1 397.6Z" fill="rgb(217,217,217)"/>
<path d="M174.5 334L283.4 395.4L277.4 405.0Z" fill="rgb(216,216,216)"/>
<path d="M174.5 334L278.9 402.8L272.2 412.0Z" fill="rgb(213,213,213)"/>
<path d="M174.5 334L273.8 409.9L266.5 418.6Z" fill="rgb(209,209,209)"/>
<path d="M174.5 334L268.3 416.7L260.4 424.8Z" fill="rgb(206,206,206)"/>
<path d="M174.5 334L262.3 423.0L253.8 430.6Z" fill="rgb(202,202,202)"/>
<path d="M174.5 334L255.8 428.9L246.9 435.9Z" fill="rgb(178,178,178)"/>
<path d="M174.5 334L249.0 434.4L239.6 440.7Z" fill="rgb(150,150,150)"/>
<path d="M174.5 334L241.8 439.3L232.0 445.0Z" fill="rgb(110,110,110)"/>
<path d="M174.5 334L234.3 443.7L224.1 448.7Z" fill="rgb(84,84,84)"/>
<path d="M174.5 334L226.5 447.7L216.0 451.9Z" fill="rgb(70,70,70)"/>
<path d="M174.5 334L218.5 451.0L207.7 454.5Z" fill="rgb(63,63,63)"/>
<path d="M174.5 334L210.2 453.8L199.2 456.5Z" fill="rgb(60,60,60)"/>
<path d="M174.5 334L201.8 456.0L190.6 458.0Z" fill="rgb(57,57,57)"/>
<path d="M174.5 334L193.2 457.6L181.9 458.8Z" fill="rgb(55,55,55)"/>
<path d="M174.5 334L184.5 458.6L173.2 459.0Z" fill="rgb(50,50,50)"/>
<path d="M174.5 334L175.8 459.0L164.5 458.6Z" fill="rgb(46,46,46)"/>
<path d="M174.5 334L167.1 458.8L155.8 457.6Z" fill="rgb(41,41,41)"/>
<path d="M174.5 334L158.4 458.0L147.2 456.0Z" fill="rgb(36,36,36)"/>
<path d="M174.5 334L149.8 456.5L138.8 453.8Z" fill="rgb(43,43,43)"/>
<path d="M174.5 334L141.3 454.5L130.5 451.0Z" fill="rgb(49,49,49)"/>
<path d="M174.5 334L133.0 451.9L122.5 447.7Z" fill="rgb(56,56,56)"/>
<path d="M174.5 334L124.9 448.7L114.7 443.7Z" fill="rgb(80,80,80)"/>
<path d="M174.5 334L117.0 445.0L107.2 439.3Z" fill="rgb(110,110,110)"/>
<path d="M174.5 334L109.4 440.7L100.0 434.4Z" fill="rgb(146,146,146)"/>
<path d="M174.5 334L102.1 435.9L93.2 428.9Z" fill="rgb(153,153,153)"/>
<path d="M174.5 334L95.2 430.6L86.7 423.0Z" fill="rgb(161,161,161)"/>
<path d="M174.5 334L88.6 424.8L80.7 416.7Z" fill="rgb(168,168,168)"/>
<path d="M174.5 334L82.5 418.6L75.2 409.9Z" fill="rgb(171,171,171)"/>
<path d="M174.5 334L76.8 412.0L70.1 402.8Z" fill="rgb(173,173,173)"/>
<path d="M174.5 334L71.6 405.0L65.6 395.4Z" fill="rgb(176,176,176)"/>
<path d="M174.5 334L66.9 397.6L61.6 387.6Z" fill="rgb(179,179,179)"/>
<path d="M174.5 334L62.7 390.0L58.1 379.6Z" fill="rgb(181,181,181)"/>
<path d="M174.5 334L59.1 382.0L55.2 371.4Z" fill="rgb(184,184,184)"/>
<path d="M174.5 334L56.0 373.9L52.9 363.0Z" fill="rgb(188,188,188)"/>
<path d="M174.5 334L53.5 365.5L51.2 354.4Z" fill="rgb(192,192,192)"/>
<path d="M174.5 334L51.6 357.0L50.1 345.8Z" fill="rgb(196,196,196)"/>
<path d="M174.5 334L50.3 348.4L49.5 337.1Z" fill="rgb(200,200,200)"/>
<path d="M174.5 334L49.6 339.7L49.6 328.3Z" fill="rgb(204,204,204)"/>
<path d="M174.5 334L49.5 330.9L50.3 319.6Z" fill="rgb(205,205,205)"/>
<path d="M174.5 334L50.1 322.2L51.6 311.0Z" fill="rgb(206,206,206)"/>
<path d="M174.5 334L51.2 313.6L53.5 302.5Z" fill="rgb(206,206,206)"/>
<path d="M174.5 334L52.9 305.0L56.0 294.1Z" fill="rgb(207,207,207)"/>
<path d="M174.5 334L55.2 296.6L59.1 286.0Z" fill="rgb(208,208,208)"/>
<path d="M174.5 334L58.1 288.4L62.7 278.0Z" fill="rgb(209,209,209)"/>
<path d="M174.5 334L61.6 280.4L66.9 270.4Z" fill="rgb(210,210,210)"/>
<path d="M174.5 334L65.6 272.6L71.6 263.0Z" fill="rgb(208,208,208)"/>
<path d="M174.5 334L70.1 265.2L76.8 256.0Z" fill="rgb(205,205,205)"/>
<path d="M174.5 334L75.2 258.1L82.5 249.4Z" fill="rgb(201,201,201)"/>
<path d="M174.5 334L80.7 251.3L88.6 243.2Z" fill="rgb(198,198,198)"/>
<path d="M174.5 334L86.7 245.0L95.2 237.4Z" fill="rgb(194,194,194)"/>
<path d="M174.5 334L93.2 239.1L102.1 232.1Z" fill="rgb(191,191,191)"/>
<path d="M174.5 334L100.0 233.6L109.4 227.3Z" fill="rgb(187,187,187)"/>
<path d="M174.5 334L107.2 228.7L117.0 223.0Z" fill="rgb(184,184,184)"/>
<path d="M174.5 334L114.7 224.3L124.9 219.3Z" fill="rgb(181,181,181)"/>
<path d="M174.5 334L122.5 220.3L133.0 216.1Z" fill="rgb(179,179,179)"/>
<path d="M174.5 334L130.5 217.0L141.3 213.5Z" fill="rgb(176,176,176)"/>
<path d="M174.5 334L138.8 214.2L149.8 211.5Z" fill="rgb(173,173,173)"/>
<path d="M174.5 334L147.2 212.0L158.4 210.0Z" fill="rgb(171,171,171)"/>
<path d="M174.5 334L155.8 210.4L167.1 209.2Z" fill="rgb(168,168,168)"/>
<path d="M174.5 334L164.5 209.4L175.8 209.0Z" fill="rgb(165,165,165)"/></g></g>
<ellipse cx="174.5" cy="334" rx="85" ry="82.5" fill="none" stroke="#e8e8e8" stroke-width="1.2" opacity="0.5"/>
<ellipse cx="175.3" cy="334.8" rx="65" ry="63" fill="url(#bevel)"/>
<ellipse cx="175.0" cy="334.3" rx="64" ry="62" fill="#050505"/>
<text x="177" y="265.5" font-family="Liberation Sans, sans-serif" font-size="6.5" font-style="italic" font-weight="bold" fill="#c8c8c8" text-anchor="middle" opacity="0.5">ROXY</text>
<g transform="translate(133.8 270.0)"><circle r="6.4" fill="#b0b0b0" stroke="#7a7a7a" stroke-width="1"/><circle r="3.6" fill="#9c9c9c" stroke="#808080" stroke-width="0.7"/><circle cx="-0.5" cy="-1" r="1.6" fill="#2a2a2a"/><circle cx="1" cy="1.6" r="1.3" fill="#fff"/></g>
<g transform="translate(210.6 267.3)"><circle r="6.4" fill="#b0b0b0" stroke="#7a7a7a" stroke-width="1"/><circle r="3.6" fill="#9c9c9c" stroke="#808080" stroke-width="0.7"/><circle cx="-0.5" cy="-1" r="1.6" fill="#2a2a2a"/><circle cx="1" cy="1.6" r="1.3" fill="#fff"/></g>
<g transform="translate(251.3 331.4)"><circle r="6.4" fill="#b0b0b0" stroke="#7a7a7a" stroke-width="1"/><circle r="3.6" fill="#9c9c9c" stroke="#808080" stroke-width="0.7"/><circle cx="-0.5" cy="-1" r="1.6" fill="#2a2a2a"/><circle cx="1" cy="1.6" r="1.3" fill="#fff"/></g>
<g transform="translate(215.2 398.0)"><circle r="6.4" fill="#b0b0b0" stroke="#7a7a7a" stroke-width="1"/><circle r="3.6" fill="#9c9c9c" stroke="#808080" stroke-width="0.7"/><circle cx="-0.5" cy="-1" r="1.6" fill="#2a2a2a"/><circle cx="1" cy="1.6" r="1.3" fill="#fff"/></g>
<g transform="translate(138.4 400.7)"><circle r="6.4" fill="#b0b0b0" stroke="#7a7a7a" stroke-width="1"/><circle r="3.6" fill="#9c9c9c" stroke="#808080" stroke-width="0.7"/><circle cx="-0.5" cy="-1" r="1.6" fill="#2a2a2a"/><circle cx="1" cy="1.6" r="1.3" fill="#fff"/></g>
<g transform="translate(97.7 336.6)"><circle r="6.4" fill="#b0b0b0" stroke="#7a7a7a" stroke-width="1"/><circle r="3.6" fill="#9c9c9c" stroke="#808080" stroke-width="0.7"/><circle cx="-0.5" cy="-1" r="1.6" fill="#2a2a2a"/><circle cx="1" cy="1.6" r="1.3" fill="#fff"/></g>
<g transform="translate(175.3 291.7)"><circle r="11.9" fill="url(#ledg)"/><circle r="11.9" fill="url(#ledsh)"/></g>
<g transform="translate(203.8 301.8)"><circle r="11.9" fill="url(#ledg)"/><circle r="11.9" fill="url(#ledsh)"/></g>
<g transform="translate(218.9 327.2)"><circle r="11.9" fill="url(#ledg)"/><circle r="11.9" fill="url(#ledsh)"/></g>
<g transform="translate(213.7 356.2)"><circle r="11.9" fill="url(#ledg)"/><circle r="11.9" fill="url(#ledsh)"/></g>
<g transform="translate(190.5 375.1)"><circle r="11.9" fill="url(#ledg)"/><circle r="11.9" fill="url(#ledsh)"/></g>
<g transform="translate(160.1 375.1)"><circle r="11.9" fill="url(#ledg)"/><circle r="11.9" fill="url(#ledsh)"/></g>
<g transform="translate(136.9 356.2)"><circle r="11.9" fill="url(#ledg)"/><circle r="11.9" fill="url(#ledsh)"/></g>
<g transform="translate(131.7 327.2)"><circle r="11.9" fill="url(#ledg)"/><circle r="11.9" fill="url(#ledsh)"/></g>
<g transform="translate(146.8 301.8)"><circle r="11.9" fill="url(#ledg)"/><circle r="11.9" fill="url(#ledsh)"/></g>
<circle cx="146" cy="318" r="2" fill="#555"/><circle cx="146" cy="318" r="0.8" fill="#ccc"/>
<circle cx="204.5" cy="318" r="2" fill="#555"/><circle cx="204.5" cy="318" r="0.8" fill="#ccc"/>
<circle cx="175.5" cy="366.5" r="2" fill="#555"/><circle cx="175.5" cy="366.5" r="0.8" fill="#ccc"/>
<path d="M160 302 l3 6 M164 301 l3 6 M168 301 l3 6" stroke="#777" stroke-width="1.6" fill="none"/>
<path d="M169 303 l2.5 5" stroke="#a02030" stroke-width="1.4" fill="none"/>
<path d="M184 303 q6 -1 8 3 q0 4 -4 4" stroke="#9aa070" stroke-width="1.3" fill="none"/>
<polygon points="201.8,335.4 188.8,357.5 162.8,357.5 149.8,335.4 162.8,313.3 188.8,313.3" fill="url(#nutbev)" stroke="url(#nutbev)" stroke-width="7" stroke-linejoin="round"/>
<circle cx="175.8" cy="335.4" r="28" fill="url(#nutbev)"/>
<polygon points="199.3,335.4 187.6,355.3 164.1,355.3 152.3,335.4 164.1,315.5 187.6,315.5" fill="url(#nutg)" stroke="url(#nutg)" stroke-width="7" stroke-linejoin="round"/>
<circle cx="175.8" cy="335.7" r="25.6" fill="url(#nutg)"/>
<circle cx="175.5" cy="334" r="19.6" fill="url(#nutring)"/>
<circle cx="175.4" cy="333.6" r="16.3" fill="#fff"/>
</g>
<g id="drawing" fill="none" stroke="#c8c8c8" stroke-width="1" filter="url(#b03)">
<!-- flange + top clamp outline -->
<path d="M355.5 149.5 V109.5 H425 V80 M495 80 V109.5 H589.5 M564.5 109.5 V149.5 M355.5 129.8 H589.5 M340.5 109.5 H355.5"/>
<!-- top clamp -->
<path d="M426.2 103.5 V87.5 H494 V103.5 M426.2 103.5 H450.5 V87.5 M494 103.5 H469.6 V87.5"/>
<circle cx="460" cy="98" r="6"/>
<!-- dims 30 / 50 -->
<path d="M439 69.5 V87.5 M481 69.5 V87.5 M441 70.6 H478 M427.5 80.6 H492.5"/>
<!-- body -->
<path d="M381 129.8 V196 Q381 202.2 387 202.2 H533.5 Q539.5 202.2 539.5 196 V129.8 M381 196 V250.5 M539.5 196 V250.5"/>
<!-- 150 dim -->
<path d="M359.5 146.9 H561.5"/>
<!-- 83 dim -->
<path d="M338 112.4 V222.2 M340.5 224 H425"/>
<!-- 15 dim -->
<path d="M589.4 110.8 V129.5"/>
<!-- 113 dim -->
<path d="M384 248.6 H535.5"/>
<!-- bottom clamp -->
<path d="M424.8 202.2 V221 Q424.8 224 428 224 H492.5 Q495.7 224 495.7 221 V202.2 M426 207.5 H450.3 V224 M494.4 207.5 H469.2 V224"/>
<circle cx="460" cy="213" r="6"/>
<!-- gland -->
<g stroke="#8c8c8c">
<path d="M500.9 202 V207.8 H504.3 V211.5 H502.8 V221.7 H500.9 V227 Q501.5 232.6 506 232.6 H522 Q526.6 232.6 527 227 V221.7 H525.1 V208.3 H526.6 V202 M520.1 202 V208.3 H521.6 V221.7 H520.6 V232 M507.8 202 V232.6 M506.8 211.5 V221.7 M500.9 225.6 H507.8 M520.6 225.6 H527 M502.8 214 H506.8 M521.6 214 H525.1"/>
</g>
</g>
<g fill="#fff" filter="url(#b03)">
<rect x="337" y="111.4" width="2" height="2"/><rect x="337" y="221.2" width="2" height="2"/>
<rect x="358.5" y="145.9" width="2" height="2"/><rect x="560.5" y="145.9" width="2" height="2"/>
<rect x="588.4" y="109.8" width="2" height="2"/><rect x="588.4" y="128.5" width="2" height="2"/>
<rect x="383" y="247.6" width="2" height="2"/><rect x="534.5" y="247.6" width="2" height="2"/>
<rect x="440" y="69.6" width="2" height="2"/><rect x="476.5" y="69.6" width="2" height="2"/>
<rect x="426.5" y="79.6" width="2" height="2"/><rect x="491.5" y="79.6" width="2" height="2"/>
</g>
<g font-family="Liberation Sans, sans-serif" font-size="10.3" fill="#e8e8e8" text-anchor="middle" filter="url(#b03)">
<text transform="translate(458 65.3) scale(1.09 1)">30</text>
<text transform="translate(458 79.8) scale(1.09 1)">50</text>
<text transform="translate(458 142.6) scale(1.09 1)">150</text>
<text transform="translate(459.8 243.7) scale(1.09 1)">113</text>
<text transform="translate(334.5 174.7) rotate(-90) scale(1.09 1)">83</text>
<text transform="translate(580.8 123.7) rotate(-90) scale(1.09 1)">15</text>
</g>

<g clip-path="url(#p1c)"><g filter="url(#b04)">
<rect x="305" y="293" width="140" height="112" fill="url(#p1bg)"/>
<polygon points="305.0,293.0 357.9,293.0 355.4,307.8 346.8,325.0 341.9,347.1 344.4,374.2 341.9,396.3 305.0,406.2" fill="url(#p1left)"/>
<path d="M305.0 293.0 C309.3 284.4 327.4 291.2 330.8 293.0 C334.3 294.8 327.8 300.2 325.9 304.1 C324.1 308.0 321.5 312.1 319.8 316.4 C318.0 320.7 316.4 325.6 315.3 329.9 C314.3 334.2 315.3 339.8 313.6 342.2 C311.9 344.7 306.4 352.9 305.0 344.7 C303.6 336.5 300.7 301.6 305.0 293.0Z" fill="#ececec"/>
<path d="M331.6 301.6 C330.6 303.5 327.9 308.8 325.9 312.7 C323.9 316.6 321.5 320.7 319.8 325.0 C318.0 329.3 316.2 334.0 315.3 338.5 C314.4 343.0 314.5 349.8 314.4 352.1" fill="none" stroke="#6a6a6a" stroke-width="1.4" opacity="0.7"/>
<path d="M339.4 374.2 C344.0 369.7 355.0 375.4 361.6 374.2 C368.2 373.0 374.7 363.1 378.8 366.8 C382.9 370.5 386.2 390.6 386.2 396.3 C386.2 402.1 387.4 400.4 378.8 401.3 C370.2 402.1 341.1 405.8 334.5 401.3 C328.0 396.8 334.9 378.7 339.4 374.2Z" fill="#26262a" opacity="0.95" filter="url(#b2)"/>
<polygon points="314.8,374.2 344.4,376.7 348.1,396.3 319.8,401.3" fill="#5a5a5a" opacity="0.7" filter="url(#b2)"/>
<path d="M380 296 L384 300 Q392 303.5 400 305 Q410 307 422 311.5 L437 317.5 L437 296Z" fill="#19191b"/>
<path d="M400 301 Q415 303 436 310" stroke="#3c3c40" stroke-width="2" fill="none"/>
<path d="M341.4 343.4 C341.8 338.4 344.5 327.9 347.3 323.8 C350.1 319.7 360.7 309.9 365.3 308.3 C369.8 306.6 383.2 308.6 386.2 309.7 C389.2 310.8 390.3 313.8 390.6 317.6 C391.0 321.4 390.5 337.0 389.2 342.2 C387.8 347.4 382.5 358.5 378.8 362.4 C375.2 366.3 361.9 375.4 357.9 375.9 C353.9 376.4 346.3 370.6 344.4 366.8 C342.4 363.0 341.1 348.5 341.4 343.4Z" fill="url(#p1cl)"/>
<path d="M386.7 310.7 C387.2 311.8 390.1 314.6 390.4 318.8 C390.6 323.0 390.2 336.5 388.7 342.2 C387.1 348.0 382.8 357.5 378.8 361.9 C374.8 366.3 361.3 373.6 358.6 375.4" fill="none" stroke="#9a9a9a" stroke-width="2" opacity="0.8"/>
<polygon points="345.6,350.8 357.9,357.5 357.9,375.9 344.4,366.8" fill="#484848"/>
<g transform="translate(374.6 345.9) rotate(22)"><ellipse rx="10.5" ry="19.5" fill="#3a3a3a"/><ellipse cx="-2" cy="3" rx="7" ry="14" fill="#5c5c5c"/><ellipse cx="2.5" cy="-2" rx="5.5" ry="13" fill="#2a2a2a"/></g>
<circle cx="376.4" cy="343.4" r="4.2" fill="#111"/>
<circle cx="355.0" cy="342.2" r="5" fill="#2a2a2a" stroke="#b0b0b0" stroke-width="0.9"/><circle cx="355.0" cy="342.2" r="2.4" fill="#111"/>
<path d="M357.9 327.4 L369.5 315.1" stroke="#c8c8c8" stroke-width="0.8" opacity="0.8"/>
<path d="M353.0 377.9 C354.4 377.2 358.3 377.8 359.6 378.6 C361.0 379.5 361.8 381.3 361.1 382.8 C360.4 384.3 357.0 386.2 355.4 387.7 C353.9 389.3 353.2 391.4 351.8 391.9 C350.3 392.5 347.6 391.8 346.8 390.9 C346.1 390.0 346.6 387.9 347.3 386.5 C348.1 385.2 350.3 384.2 351.3 382.8 C352.2 381.4 351.6 378.6 353.0 377.9Z" fill="#efefef"/>
</g></g>
<rect x="311.6" y="300.3" width="123.8" height="98.5" rx="11" ry="11" fill="none" stroke="#f2f2f2" stroke-width="1.3" filter="url(#b03)"/>
<g clip-path="url(#p2c)"><g filter="url(#b04)">
<rect x="443" y="293" width="140" height="112" fill="#e9e9ea"/>
<ellipse cx="505.6" cy="350.8" rx="51" ry="81.2" fill="#727a8a" stroke="#5a6373" stroke-width="1.2"/>
<ellipse cx="508.2" cy="350.8" rx="47.6" ry="79.2" fill="#a9b1c1"/>
<circle cx="481.1" cy="311.5" r="10" fill="url(#p2lens)"/><circle cx="481.7" cy="311.9" r="2.6" fill="none" stroke="#e4e9f2" stroke-width="0.9" opacity="0.9"/>
<circle cx="504.5" cy="305.3" r="10" fill="url(#p2lens)"/><circle cx="505.1" cy="305.7" r="2.6" fill="none" stroke="#e4e9f2" stroke-width="0.9" opacity="0.9"/>
<circle cx="527.9" cy="311.5" r="10" fill="url(#p2lens)"/><circle cx="528.5" cy="311.9" r="2.6" fill="none" stroke="#e4e9f2" stroke-width="0.9" opacity="0.9"/>
<circle cx="545.1" cy="338.5" r="10" fill="url(#p2lens)"/><circle cx="545.7" cy="338.9" r="2.6" fill="none" stroke="#e4e9f2" stroke-width="0.9" opacity="0.9"/>
<circle cx="543.9" cy="377.9" r="10" fill="url(#p2lens)"/><circle cx="544.5" cy="378.3" r="2.6" fill="none" stroke="#e4e9f2" stroke-width="0.9" opacity="0.9"/>
<circle cx="519.3" cy="395.1" r="10" fill="url(#p2lens)"/><circle cx="519.9" cy="395.5" r="2.6" fill="none" stroke="#e4e9f2" stroke-width="0.9" opacity="0.9"/>
<circle cx="492.2" cy="392.7" r="10" fill="url(#p2lens)"/><circle cx="492.8" cy="393.1" r="2.6" fill="none" stroke="#e4e9f2" stroke-width="0.9" opacity="0.9"/>
<circle cx="470.1" cy="374.2" r="10" fill="url(#p2lens)"/><circle cx="470.7" cy="374.6" r="2.6" fill="none" stroke="#e4e9f2" stroke-width="0.9" opacity="0.9"/>
<ellipse cx="569.0" cy="349.1" rx="6.6" ry="9" fill="#f4f4f4" stroke="#55585e" stroke-width="1.1"/><ellipse cx="569.5" cy="349.6" rx="2" ry="2.6" fill="#666"/>
<path d="M519.4 323.8 C520.8 316.4 527.1 324.8 529.3 326.8 C531.6 328.7 535.0 335.2 536.3 338.6 C537.5 342.1 538.8 348.5 538.8 352.5 C538.8 356.4 537.5 364.7 536.3 368.3 C535.0 371.9 531.6 377.3 529.3 379.2 C527.1 381.1 520.8 389.9 519.4 382.5 C518.1 375.1 518.1 331.2 519.4 323.8Z" fill="#0e0e0f"/>
<path d="M512.5 320.8 C513.8 312.6 519.8 320.6 521.8 322.4 C523.9 324.3 526.7 330.7 527.8 334.7 C528.8 338.7 529.8 347.7 529.7 352.5 C529.7 357.2 528.5 366.3 527.4 370.3 C526.2 374.3 523.0 380.7 521.0 382.5 C519.1 384.4 513.7 392.3 512.5 384.1 C511.4 375.9 511.3 329.1 512.5 320.8Z" fill="#3b3b3c"/>
<path d="M521.8 323.2 C522.6 324.7 526.4 330.8 527.4 334.7 C528.4 338.6 529.4 347.7 529.3 352.5 C529.3 357.2 528.1 366.4 527.0 370.3 C525.9 374.2 521.8 380.2 521.0 381.7" fill="none" stroke="#5c5c5c" stroke-width="1.2"/>
<path d="M508.6 321.2 C509.7 312.6 515.3 319.8 517.1 321.6 C518.8 323.4 521.0 330.6 521.8 334.7 C522.7 338.8 523.5 347.7 523.4 352.5 C523.3 357.2 522.0 365.9 521.0 370.3 C520.0 374.6 517.5 382.9 515.9 385.1 C514.2 387.3 509.5 395.0 508.6 386.5 C507.6 378.0 507.4 329.9 508.6 321.2Z" fill="#151515"/>
<path d="M489.8 320.4 C492.3 311.3 508.8 318.9 512.5 320.8 C516.3 322.7 517.1 330.4 518.1 334.7 C519.0 338.9 519.9 347.7 519.8 352.5 C519.8 357.2 518.5 365.8 517.5 370.3 C516.4 374.8 515.1 383.6 511.9 386.1 C508.8 388.6 496.7 397.8 493.7 389.1 C490.8 380.3 487.3 329.5 489.8 320.4Z" fill="#303030"/>
<path d="M499.7 323.8 L512.5 345.5" stroke="#7a7a7a" stroke-width="2.2" stroke-linecap="round" opacity="0.8"/>
<path d="M506.6 322.8 L517.1 342.6" stroke="#555" stroke-width="1.6" stroke-linecap="round" opacity="0.8"/>
<path d="M495.7 324.8 L505.6 342.6" stroke="#5a5a5a" stroke-width="1.6" stroke-linecap="round" opacity="0.8"/>
<path d="M499.7 384.1 L516.5 368.3" stroke="#6c6c6c" stroke-width="2.0" stroke-linecap="round" opacity="0.8"/>
<path d="M507.6 386.1 L518.5 373.2" stroke="#505050" stroke-width="1.5" stroke-linecap="round" opacity="0.8"/>
<ellipse cx="513.9" cy="359.4" rx="2.6" ry="3.4" fill="#0a0a0a" stroke="#5a5a5a" stroke-width="0.7"/>
<polygon points="466.8,359.5 465.8,342 480.6,322.2 495,324 509,358 496.3,387.2 484,389.3 476.3,381.5" fill="#f6f6f6" stroke="#f6f6f6" stroke-width="3" stroke-linejoin="round"/>
<path d="M496.5 324.5 L510.3 358 L497.3 388" fill="none" stroke="#a8a8a8" stroke-width="1.4" stroke-linejoin="round"/>
<ellipse cx="485.6" cy="355.2" rx="12.8" ry="21.4" fill="#101010"/>
<ellipse cx="484" cy="357" rx="9" ry="16.5" fill="#1c1c1c"/>
<ellipse cx="476.5" cy="352.5" rx="1.4" ry="1.8" fill="#555"/>
</g></g>
<rect x="450.4" y="299.9" width="123.8" height="98.9" rx="13" ry="13" fill="none" stroke="#f2f2f2" stroke-width="1.3" filter="url(#b03)"/>
</svg>
</body></html>
